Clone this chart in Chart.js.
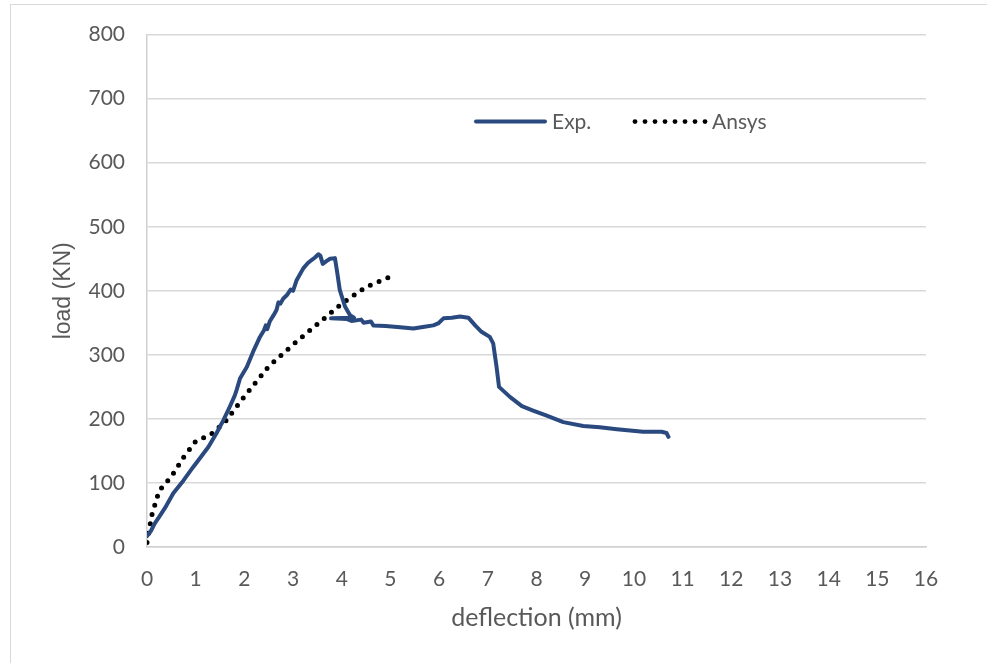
<!DOCTYPE html>
<html>
<head>
<meta charset="utf-8">
<title>load - deflection</title>
<script src="https://cdn.jsdelivr.net/npm/chart.js@4.4.1/dist/chart.umd.min.js"></script>
<style>
  body { margin: 0; background: #fff; overflow: hidden; }
  #marco { position: absolute; left: 10px; top: 4px; width: 1100px; height: 800px; border: 1px solid #d9d9d9; }
  #contenedor { position: absolute; left: 0; top: 0; width: 987px; height: 663px; }
</style>
</head>
<body>
<div id="marco"></div>
<div id="contenedor"><canvas id="grafico"></canvas></div>
<script>
// Curva experimental: deflexión (mm) y carga (KN)
let expX = [0, 0.08, 0.16, 0.25, 0.37, 0.54, 0.75, 0.95, 1.09, 1.26, 1.43, 1.57, 1.70, 1.80, 1.84, 1.91,
    2.05, 2.18, 2.32, 2.40, 2.44, 2.47, 2.52, 2.60, 2.66, 2.70, 2.74, 2.80, 2.87, 2.95, 3.00, 3.07,
    3.21, 3.30, 3.38, 3.45, 3.52, 3.56, 3.61, 3.70, 3.76, 3.86, 3.90, 3.96, 4.07, 4.17, 4.25,
    3.78, 4.10, 4.20, 4.40, 4.45, 4.60, 4.65, 4.90, 5.20, 5.47, 5.70, 5.88, 5.98, 6.09, 6.26, 6.43,
    6.60, 6.74, 6.87, 7.04, 7.11, 7.18, 7.23, 7.46, 7.70, 7.93, 8.21, 8.55, 8.96, 9.30, 9.65,
    10.19, 10.40, 10.57, 10.67, 10.71];
let expY = [17, 25, 37, 47, 61, 84, 104, 125, 139, 156, 178, 198, 219, 236, 245, 263,
    281, 305, 328, 338, 346, 340, 352, 362, 370, 382, 380, 388, 393, 402, 400, 416,
    435, 443, 448, 452, 457, 455, 442, 447, 450, 451, 432, 401, 375, 362, 358,
    357, 356, 353, 355, 350, 352, 346, 345, 343, 341, 344, 346, 349, 357, 358, 360,
    358, 346, 336, 328, 318, 281, 250, 234, 220, 213, 205, 195, 189, 187, 184,
    180, 180, 180, 178, 172];

// Curva numérica (Ansys)
let ansysX = [0, 0.1, 0.25, 0.5, 0.75, 1.0, 1.3, 1.6, 2.0, 2.5, 3.0, 3.5, 4.0, 4.5, 5.0];
let ansysY = [7, 50, 88, 110, 140, 165, 175, 195, 235, 282, 316, 348, 380, 406, 422];

let nombres = ["Exp.", "Ansys"];
let colorExp = "#2a4a7f";
let colorTexto = "#595959";
let fuente = "Lato";

function puntos(xs, ys) {
    return xs.map((x, i) => ({ x: x, y: ys[i] }));
}

// Leyenda dibujada dentro del área del gráfico
const leyenda = {
    id: "leyenda",
    afterDraw(chart) {
        const ctx = chart.ctx;
        const area = chart.chartArea;
        const y = area.top + 87;
        let x0 = area.left + 329;
        ctx.save();
        ctx.font = "21px " + fuente;
        ctx.fillStyle = colorTexto;
        ctx.textBaseline = "middle";
        // muestra de línea continua
        ctx.strokeStyle = colorExp;
        ctx.lineWidth = 4;
        ctx.lineCap = "round";
        ctx.beginPath();
        ctx.moveTo(x0, y);
        ctx.lineTo(x0 + 69, y);
        ctx.stroke();
        ctx.fillText(nombres[0], x0 + 76, y + 1);
        // muestra punteada
        let x1 = area.left + 488;
        ctx.fillStyle = "#000";
        for (let i = 0; i < 8; i++) {
            ctx.beginPath();
            ctx.arc(x1 + i * 10, y, 2.4, 0, Math.PI * 2);
            ctx.fill();
        }
        ctx.fillStyle = colorTexto;
        ctx.fillText(nombres[1], x1 + 77, y + 1);
        ctx.restore();
    }
};

const ctx = document.getElementById("grafico");

let grafico = new Chart(ctx, {
    type: "scatter",
    data: {
        datasets: [{
            label: nombres[0],
            data: puntos(expX, expY),
            showLine: true,
            borderColor: colorExp,
            borderWidth: 4,
            pointRadius: 0,
            borderJoinStyle: "round",
            borderCapStyle: "round"
        }, {
            label: nombres[1],
            data: puntos(ansysX, ansysY),
            showLine: true,
            borderColor: "#000",
            borderWidth: 5,
            borderDash: [0, 9.5],
            borderCapStyle: "round",
            pointRadius: 0
        }]
    },
    options: {
        responsive: true,
        maintainAspectRatio: false,
        animation: false,
        layout: { padding: { left: 46, top: 34, right: 61, bottom: 26 } },
        plugins: {
            legend: { display: false },
            tooltip: { enabled: false }
        },
        scales: {
            x: {
                type: "linear",
                min: 0,
                max: 16,
                ticks: { stepSize: 1, color: colorTexto, font: { family: fuente, size: 21 }, padding: 20 },
                grid: { display: false, drawTicks: false },
                border: { color: "#d0d0d0", width: 1.5 },
                title: { display: true, text: "deflection (mm)", color: colorTexto, font: { family: fuente, size: 25 } },
                afterFit: (scale) => { scale.height = 90; }
            },
            y: {
                min: 0,
                max: 800,
                ticks: { stepSize: 100, color: colorTexto, font: { family: fuente, size: 21 }, padding: 22 },
                grid: { color: "#d9d9d9", lineWidth: 1.5, drawTicks: false },
                border: { color: "#d0d0d0", width: 1.5 },
                title: { display: true, text: "load (KN)", color: colorTexto, font: { family: "Liberation Sans", size: 23 } },
                afterFit: (scale) => { scale.width = 101; }
            }
        }
    },
    plugins: [leyenda]
});
</script>
</body>
</html>
